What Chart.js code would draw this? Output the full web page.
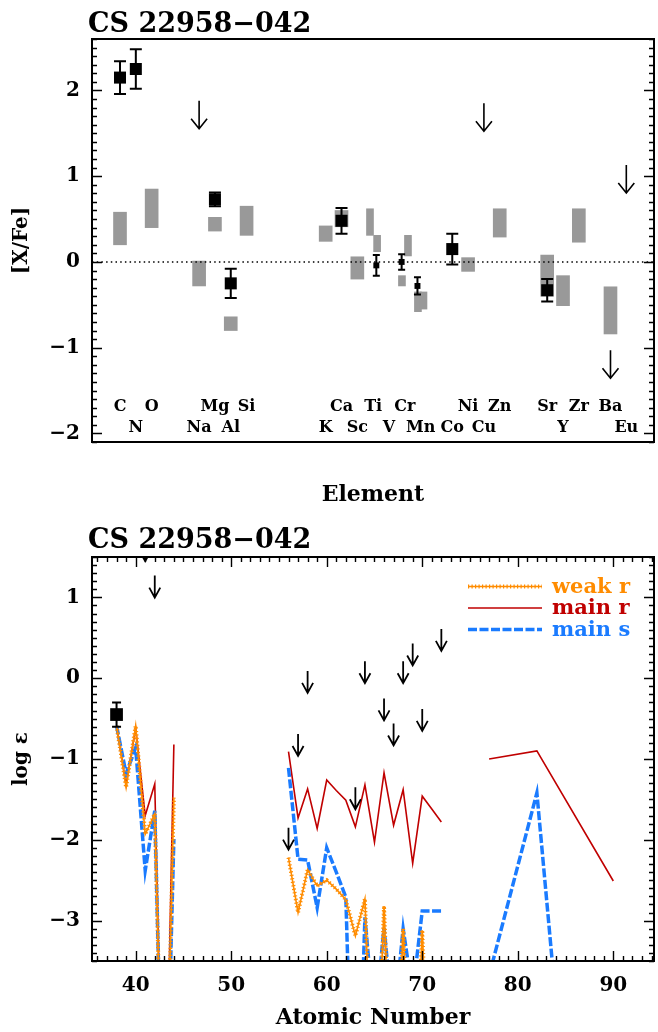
<!DOCTYPE html>
<html>
<head>
<meta charset="utf-8">
<script src="https://cdn.jsdelivr.net/npm/chart.js@4.4.0/dist/chart.umd.min.js"></script>
<style>
  html, body { margin: 0; padding: 0; background: #fff; }
  #wrap { position: relative; width: 658px; height: 1032px; }
  canvas { position: absolute; left: 0; }
  #top { top: 0; }
  #bottom { top: 510px; }
</style>
</head>
<body>
<div id="wrap">
  <canvas id="top" width="658" height="510"></canvas>
  <canvas id="bottom" width="658" height="522"></canvas>
</div>
<script>
const STAR = 'CS 22958\u2212042';

// ---- top panel: [X/Fe] per element slot ----
const elemNames = ['C', 'N', 'O', 'Na', 'Mg', 'Al', 'Si', 'K', 'Ca', 'Sc', 'Ti', 'V', 'Cr', 'Mn', 'Co', 'Ni', 'Cu', 'Zn', 'Sr', 'Y', 'Zr', 'Ba', 'Eu'];
const elemSlot = [0, 1, 2, 5, 6, 7, 8, 13, 14, 15, 16, 17, 18, 19, 21, 22, 23, 24, 27, 28, 29, 31, 32];
const elemRow = [0, 1, 0, 1, 0, 1, 0, 1, 0, 1, 0, 1, 0, 1, 1, 0, 1, 0, 0, 1, 0, 0, 1];

const obsSlot = [0, 1, 6, 7, 14, 21, 27];
const obsXFe = [2.15, 2.25, 0.73, -0.25, 0.48, 0.15, -0.33];
const obsErr = [0.19, 0.23, 0.08, 0.17, 0.15, 0.18, 0.13];

const ionSlot = [16.2, 17.8, 18.8];
const ionXFe = [-0.04, 0.00, -0.28];
const ionErr = [0.12, 0.09, 0.10];

const rangeSlot = [0, 2, 5, 6, 7, 8, 13, 14, 15, 22, 24, 27, 28, 29, 31];
const rangeLo = [0.20, 0.40, -0.28, 0.36, -0.80, 0.31, 0.24, 0.41, -0.20, -0.11, 0.29, -0.40, -0.51, 0.23, -0.84];
const rangeHi = [0.58, 0.85, 0.01, 0.52, -0.64, 0.65, 0.42, 0.60, 0.06, 0.05, 0.62, 0.08, -0.16, 0.62, -0.29];

const splitSlot = [15.8, 16.25, 17.82, 18.2, 18.83, 19.18];
const splitLo = [0.31, 0.12, -0.28, 0.07, -0.58, -0.55];
const splitHi = [0.62, 0.31, -0.16, 0.31, -0.35, -0.35];

const limSlot = [5, 23, 31, 32];
const limXFe = [1.88, 1.85, -1.03, 1.13];

const topYTicks = [-2, -1, 0, 1, 2];

// ---- bottom panel: log eps vs atomic number ----
const zModel = [38, 39, 40, 41, 42, 43, 44, 45, 56, 57, 58, 59, 60, 61, 62, 63, 64, 65, 66, 67, 68, 69, 70, 71, 72, 73, 77, 82, 90];
const weakR = [-0.59, -1.35, -0.59, -1.93, -1.68, -6.5, -1.48, null,
    -2.22, -2.90, -2.37, -2.57, -2.50, -2.61, -2.74, -3.19, -2.73, -6.0, -2.82, -6.0, -3.10, -6.0, -3.12, -6.0, null,
    null, null, null, null];
const mainR = [-0.59, -1.32, -0.62, -1.70, -1.31, -6.5, -0.82, null,
    -0.91, -1.73, -1.37, -1.86, -1.26, -1.39, -1.51, -1.84, -1.32, -2.03, -1.17, -1.82, -1.38, -2.29, -1.46, -1.62, -1.78,
    null, -1.00, -0.90, -2.51];
const mainS = [-0.59, -1.18, -0.86, -2.38, -1.64, -6.5, -1.99, null,
    -1.11, -2.24, -2.25, -2.84, -2.10, -2.40, -2.71, -6.7, -2.96, -4.3, -3.09, -4.3, -3.10, -3.9, -2.88, -2.88, -2.88,
    null, -3.68, -1.42, -11.8];

const obsZ = [38];
const obsEps = [-0.45];
const obsEpsErr = [0.15];

const limZ = [41, 42, 56, 57, 58, 63, 64, 66, 67, 68, 69, 70, 72];
const limEps = [1.72, 1.27, -1.85, -0.69, 0.09, -1.35, 0.21, -0.25, -0.56, 0.21, 0.43, -0.38, 0.61];

const botXTicks = [40, 50, 60, 70, 80, 90];
const botYTicks = [-3, -2, -1, 0, 1];

const ORANGE = '#ff8c00';
const RED = '#c00000';
const BLUE = '#1a7bff';
const GREY = '#999999';
const FONT = '"DejaVu Serif", serif';

Chart.defaults.font.family = FONT;
Chart.defaults.color = '#000';

const minusLabel = v => (v < 0 ? '\u2212' + Math.abs(v) : String(v));

function drawFrame(chart, yMinor, xMinor) {
    const {ctx, chartArea: a, scales: {x, y}} = chart;
    ctx.save();
    ctx.strokeStyle = '#000';
    ctx.lineWidth = 1.4;
    ctx.beginPath();
    const k0 = Math.ceil(y.min / yMinor - 1e-6);
    const k1 = Math.floor(y.max / yMinor + 1e-6);
    for (let k = k0; k <= k1; k++) {
        const py = Math.round(y.getPixelForValue(k * yMinor)) + 0.5;
        const len = k % 10 === 0 ? 10 : 5;
        ctx.moveTo(a.left, py);
        ctx.lineTo(a.left + len, py);
        ctx.moveTo(a.right, py);
        ctx.lineTo(a.right - len, py);
    }
    if (xMinor) {
        for (let k = Math.ceil(x.min / xMinor); k <= Math.floor(x.max / xMinor); k++) {
            const v = k * xMinor;
            const px = Math.round(x.getPixelForValue(v)) + 0.5;
            const len = v % 10 === 0 ? 10 : 5;
            ctx.moveTo(px, a.bottom);
            ctx.lineTo(px, a.bottom - len);
            ctx.moveTo(px, a.top);
            ctx.lineTo(px, a.top + len);
        }
    }
    ctx.stroke();
    ctx.lineWidth = 2;
    ctx.strokeRect(a.left, a.top, a.right - a.left, a.bottom - a.top);
    ctx.restore();
}

function drawTitle(chart, baseline) {
    const ctx = chart.ctx;
    ctx.save();
    ctx.fillStyle = '#000';
    ctx.font = 'bold 27px ' + FONT;
    ctx.textAlign = 'left';
    ctx.textBaseline = 'alphabetic';
    ctx.fillText(STAR, 88, baseline);
    ctx.restore();
}

function drawErrors(chart, xs, vs, es, cap) {
    const {ctx, scales: {x, y}} = chart;
    ctx.save();
    ctx.strokeStyle = '#000';
    ctx.lineWidth = 2;
    ctx.beginPath();
    xs.forEach((xv, i) => {
        const px = x.getPixelForValue(xv);
        const hi = y.getPixelForValue(vs[i] + es[i]);
        const lo = y.getPixelForValue(vs[i] - es[i]);
        ctx.moveTo(px, hi);
        ctx.lineTo(px, lo);
        ctx.moveTo(px - cap / 2, hi);
        ctx.lineTo(px + cap / 2, hi);
        ctx.moveTo(px - cap / 2, lo);
        ctx.lineTo(px + cap / 2, lo);
    });
    ctx.stroke();
    ctx.restore();
}

function drawArrows(chart, xs, vs, len, headW, headH, lw) {
    const {ctx, chartArea: a, scales: {x, y}} = chart;
    ctx.save();
    ctx.beginPath();
    ctx.rect(a.left, a.top, a.right - a.left, a.bottom - a.top);
    ctx.clip();
    ctx.strokeStyle = '#000';
    ctx.lineWidth = lw;
    ctx.beginPath();
    xs.forEach((xv, i) => {
        const px = x.getPixelForValue(xv);
        const top = y.getPixelForValue(vs[i]);
        const tip = top + len;
        ctx.moveTo(px, top);
        ctx.lineTo(px, tip);
        ctx.moveTo(px - headW, tip - headH);
        ctx.lineTo(px, tip);
        ctx.lineTo(px + headW, tip - headH);
    });
    ctx.stroke();
    ctx.restore();
}

const topDecor = {
    id: 'topDecor',
    afterDatasetsDraw(chart) {
        const {ctx, chartArea: a, scales: {x, y}} = chart;
        // dotted solar line
        ctx.save();
        ctx.strokeStyle = '#000';
        ctx.lineWidth = 1.5;
        ctx.setLineDash([1.5, 3.2]);
        const py = y.getPixelForValue(0);
        ctx.beginPath();
        ctx.moveTo(a.left, py);
        ctx.lineTo(a.right, py);
        ctx.stroke();
        ctx.restore();

        drawErrors(chart, obsSlot, obsXFe, obsErr, 12);
        drawErrors(chart, ionSlot, ionXFe, ionErr, 7);
        drawArrows(chart, limSlot, limXFe, 28, 8, 10, 1.6);

        // element names inside the frame
        ctx.save();
        ctx.fillStyle = '#000';
        ctx.font = 'bold 16px ' + FONT;
        ctx.textAlign = 'center';
        ctx.textBaseline = 'alphabetic';
        elemNames.forEach((name, i) => {
            const px = x.getPixelForValue(elemSlot[i]);
            const baseline = y.getPixelForValue(elemRow[i] === 0 ? -1.74 : -1.98);
            ctx.fillText(name, px, baseline);
        });
        ctx.restore();
    },
    afterDraw(chart) {
        drawFrame(chart, 0.1, null);
        drawTitle(chart, 32);
    }
};

const legendItems = [
    {label: 'weak r', color: ORANGE, kind: 'weak'},
    {label: 'main r', color: RED, kind: 'solid'},
    {label: 'main s', color: BLUE, kind: 'dash'}
];

const bottomDecor = {
    id: 'bottomDecor',
    afterDatasetsDraw(chart) {
        drawErrors(chart, obsZ, obsEps, obsEpsErr, 9);
        drawArrows(chart, limZ, limEps, 22, 5.5, 10, 1.8);
    },
    afterDraw(chart) {
        drawFrame(chart, 0.1, 1);
        drawTitle(chart, 38);

        const ctx = chart.ctx;
        ctx.save();
        legendItems.forEach((item, i) => {
            const ly = 76.5 + i * 21.5;
            ctx.strokeStyle = item.color;
            ctx.beginPath();
            ctx.moveTo(468, ly);
            ctx.lineTo(542, ly);
            if (item.kind === 'weak') {
                ctx.setLineDash([]);
                ctx.lineWidth = 1.6;
                ctx.stroke();
                ctx.setLineDash([1.2, 2.3]);
                ctx.lineWidth = 4;
                ctx.stroke();
            } else if (item.kind === 'solid') {
                ctx.setLineDash([]);
                ctx.lineWidth = 1.6;
                ctx.stroke();
            } else {
                ctx.setLineDash([9, 2.5]);
                ctx.lineWidth = 3.5;
                ctx.stroke();
            }
            ctx.setLineDash([]);
            ctx.fillStyle = item.color;
            ctx.font = 'bold 21px ' + FONT;
            ctx.textAlign = 'left';
            ctx.textBaseline = 'alphabetic';
            ctx.fillText(item.label, 552, ly + 6);
        });
        ctx.restore();
    }
};

new Chart(document.getElementById('top'), {
    type: 'bar',
    data: {
        datasets: [
            {
                type: 'scatter',
                label: 'observed',
                data: obsSlot.map((s, i) => ({x: s, y: obsXFe[i]})),
                pointStyle: 'rect',
                pointRadius: 8.5,
                backgroundColor: '#000',
                borderWidth: 0,
                order: 0
            },
            {
                type: 'scatter',
                label: 'observed (ions)',
                data: ionSlot.map((s, i) => ({x: s, y: ionXFe[i]})),
                pointStyle: 'rect',
                pointRadius: 4.2,
                backgroundColor: '#000',
                borderWidth: 0,
                order: 0
            },
            {
                type: 'bar',
                label: 'range',
                data: rangeSlot.map((s, i) => ({x: s, y: [rangeLo[i], rangeHi[i]]})),
                backgroundColor: GREY,
                borderWidth: 0,
                barThickness: 13,
                grouped: false,
                order: 1
            },
            {
                type: 'bar',
                label: 'range (split)',
                data: splitSlot.map((s, i) => ({x: s, y: [splitLo[i], splitHi[i]]})),
                backgroundColor: GREY,
                borderWidth: 0,
                barThickness: 7,
                grouped: false,
                order: 1
            }
        ]
    },
    options: {
        responsive: false,
        animation: false,
        events: [],
        layout: {autoPadding: false, padding: {top: 39, right: 4, left: 0, bottom: 0}},
        plugins: {legend: {display: false}, tooltip: {enabled: false}},
        scales: {
            x: {
                type: 'linear',
                min: -1.77,
                max: 33.75,
                offset: false,
                grid: {display: false, drawTicks: false},
                border: {display: false},
                ticks: {display: false},
                title: {display: true, text: 'Element', color: '#000', font: {size: 22, weight: 'bold'}, padding: {top: 0, bottom: 2}},
                afterFit: s => { s.height = 68; }
            },
            y: {
                type: 'linear',
                min: -2.1,
                max: 2.6,
                grid: {display: false, drawTicks: false},
                border: {display: false},
                afterBuildTicks: s => { s.ticks = topYTicks.map(v => ({value: v})); },
                ticks: {callback: minusLabel, color: '#000', font: {size: 20, weight: 'bold'}, padding: 12},
                title: {display: true, text: '[X/Fe]', color: '#000', font: {size: 20, weight: 'bold'}, padding: {top: 10, bottom: 0}},
                afterFit: s => { s.width = 92; }
            }
        }
    },
    plugins: [topDecor]
});

const lineBase = {type: 'line', pointRadius: 0, tension: 0, spanGaps: false, fill: false};

new Chart(document.getElementById('bottom'), {
    type: 'line',
    data: {
        datasets: [
            {
                type: 'scatter',
                label: 'observed',
                data: obsZ.map((z, i) => ({x: z, y: obsEps[i]})),
                pointStyle: 'rect',
                pointRadius: 9,
                backgroundColor: '#000',
                borderWidth: 0,
                order: 0
            },
            Object.assign({}, lineBase, {
                label: 'weak r',
                data: zModel.map((z, i) => ({x: z, y: weakR[i]})),
                borderColor: ORANGE,
                borderWidth: 1.6,
                order: 1
            }),
            Object.assign({}, lineBase, {
                label: 'weak r marks',
                data: zModel.map((z, i) => ({x: z, y: weakR[i]})),
                borderColor: ORANGE,
                borderWidth: 4,
                borderDash: [1.2, 2.3],
                order: 1
            }),
            Object.assign({}, lineBase, {
                label: 'main s',
                data: zModel.map((z, i) => ({x: z, y: mainS[i]})),
                borderColor: BLUE,
                borderWidth: 3.5,
                borderDash: [9, 2.5],
                order: 2
            }),
            Object.assign({}, lineBase, {
                label: 'main r',
                data: zModel.map((z, i) => ({x: z, y: mainR[i]})),
                borderColor: RED,
                borderWidth: 1.6,
                order: 3
            })
        ]
    },
    options: {
        responsive: false,
        animation: false,
        events: [],
        layout: {autoPadding: false, padding: {top: 47, right: 4, left: 0, bottom: 0}},
        plugins: {legend: {display: false}, tooltip: {enabled: false}},
        scales: {
            x: {
                type: 'linear',
                min: 35.43,
                max: 94.26,
                grid: {display: false, drawTicks: false},
                border: {display: false},
                afterBuildTicks: s => { s.ticks = botXTicks.map(v => ({value: v})); },
                ticks: {color: '#000', font: {size: 20, weight: 'bold'}, padding: 13, maxRotation: 0},
                title: {display: true, text: 'Atomic Number', color: '#000', font: {size: 22, weight: 'bold'}, padding: {top: 0, bottom: 1}},
                afterFit: s => { s.height = 71; }
            },
            y: {
                type: 'linear',
                min: -3.5,
                max: 1.5,
                grid: {display: false, drawTicks: false},
                border: {display: false},
                afterBuildTicks: s => { s.ticks = botYTicks.map(v => ({value: v})); },
                ticks: {callback: minusLabel, color: '#000', font: {size: 20, weight: 'bold'}, padding: 12},
                title: {display: true, text: 'log \u03b5', color: '#000', font: {size: 20, weight: 'bold'}, padding: {top: 10, bottom: 0}},
                afterFit: s => { s.width = 92; }
            }
        }
    },
    plugins: [bottomDecor]
});
</script>
</body>
</html>
